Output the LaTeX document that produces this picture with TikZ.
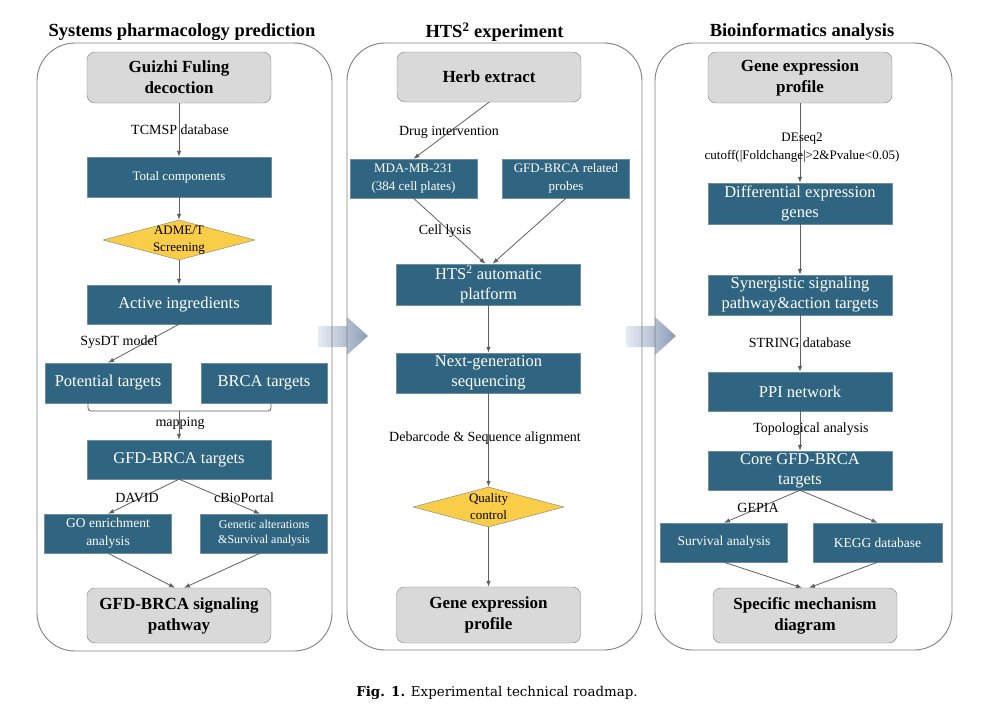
\documentclass[tikz,border=0pt]{standalone}
\usepackage{fontspec}
\setmainfont{Liberation Serif}
\newfontfamily\capfont{DejaVu Serif}
\usetikzlibrary{arrows.meta}
\usetikzlibrary{shapes.geometric}

\definecolor{tealbox}{HTML}{2F6580}
\definecolor{tealline}{HTML}{6F8FA0}
\definecolor{greybox}{HTML}{D9D9D9}
\definecolor{boxline}{HTML}{808080}
\definecolor{goldbox}{HTML}{F9CD48}
\definecolor{flowgrey}{HTML}{5F5F5F}
\definecolor{arrowl}{HTML}{E6ECF5}
\definecolor{arrowr}{HTML}{8C9DB6}

\begin{document}
\begin{tikzpicture}[x=1pt,y=-1pt,line cap=round,line join=round,
    >={Latex[length=6pt,width=4.5pt]},
    panel/.style={draw=boxline, line width=0.9pt, rounded corners=38pt},
    ttl/.style={font=\fontsize{18.5}{22}\selectfont\bfseries},
    start/.style={draw=boxline, fill=greybox, rounded corners=8pt, inner sep=0pt,
        minimum width=184pt, align=center, font=\fontsize{17}{21}\selectfont\bfseries},
    proc/.style={draw=tealline, fill=tealbox, text=white, inner sep=0pt,
        minimum width=184pt, minimum height=40pt, align=center,
        font=\fontsize{16.5}{20}\selectfont},
    half/.style={minimum width=127pt, minimum height=39pt},
    small/.style={font=\fontsize{13.5}{18}\selectfont},
    decision/.style={diamond, draw=boxline, fill=goldbox, inner sep=0pt,
        minimum width=152pt, minimum height=40pt},
    dtext/.style={align=center, inner sep=0pt, font=\fontsize{13}{17}\selectfont},
    lbl/.style={inner sep=1pt, font=\fontsize{14}{17}\selectfont},
    flow/.style={->, draw=flowgrey, line width=0.8pt}]
    \useasboundingbox (0,0) rectangle (1000,710);

    % block arrows between the panels
    \shade[left color=arrowl, right color=arrowr] (318,326) -- (347,326) -- (347,317)
        -- (368,336) -- (347,355) -- (347,347) -- (318,347) -- cycle;
    \shade[left color=arrowl, right color=arrowr] (626,326) -- (655,326) -- (655,317)
        -- (676,336) -- (655,355) -- (655,347) -- (626,347) -- cycle;

    % panels and titles
    \draw[panel] (37,43) rectangle (332,651);
    \draw[panel] (347,43) rectangle (642,650);
    \draw[panel] (655,43) rectangle (952,650);
    \node[ttl] (t1) at (182,32) {Systems pharmacology prediction};
    \node[ttl] (t2) at (494.5,32) {HTS\textsuperscript{2} experiment};
    \node[ttl] (t3) at (802,32) {Bioinformatics analysis};

    % systems pharmacology prediction
    \node[start, minimum height=51pt] (gfl) at (179,77.5) {Guizhi Fuling\\decoction};
    \node[proc, small, font=\fontsize{13}{17}\selectfont] (tot) at (179,177) {Total components};
    \node[decision] (adme) at (179,240) {};
    \node[dtext] (admet) at (adme) {ADME/T\\Screening};
    \node[proc, minimum height=39pt] (act) at (179,304.5) {Active ingredients};
    \node[proc, minimum width=126pt] (pot) at (108,383) {Potential targets};
    \node[proc, minimum width=126pt] (brca) at (264,383) {BRCA targets};
    \node[proc, minimum height=39pt] (gfdt) at (179,459.5) {GFD-BRCA targets};
    \node[proc, half, small] (goe) at (108,533.5) {GO enrichment\\analysis};
    \node[proc, half, font=\fontsize{12}{15}\selectfont] (gen) at (264,533.5) {Genetic alterations\\\&Survival analysis};
    \node[start, minimum height=55pt] (sig) at (179,615.5) {GFD-BRCA signaling\\pathway};
    \coordinate (mapj) at (179,411);

    \draw[flow] (gfl) -- (tot);
    \draw[flow] (tot) -- (adme);
    \draw[flow] (adme) -- (act);
    \draw[flow] (act.south) -- (pot.north);
    \draw[draw=flowgrey, line width=0.8pt, rounded corners=3pt]
        ([xshift=-20pt]pot.south) |- (mapj) -| ([xshift=7pt]brca.south);
    \draw[flow] (mapj) -- (gfdt);
    \draw[flow] (gfdt.south) -- (goe.north);
    \draw[flow] (gfdt.south) -- ([xshift=-4pt]gen.north);
    \draw[flow] (goe.south) -- ([xshift=-4pt]sig.north);
    \draw[flow] ([xshift=-4pt]gen.south) -- ([xshift=5pt]sig.north);

    \node[lbl] (l1) at (180,130) {TCMSP database};
    \node[lbl] (l2) at (119,342) {SysDT model};
    \node[lbl] (l3) at (180,423) {mapping};
    \node[lbl] (l4) at (137,498) {DAVID};
    \node[lbl] (l5) at (244,498) {cBioPortal};

    % HTS2 experiment
    \node[start, minimum height=50pt] (herb) at (489,77) {Herb extract};
    \node[proc, half, small, font=\fontsize{13}{18}\selectfont] (mda) at (413.5,178.5) {MDA-MB-231\\(384 cell plates)};
    \node[proc, half, small, font=\fontsize{13}{18}\selectfont] (probe) at (566,178.5) {GFD-BRCA related\\probes};
    \node[proc, minimum height=41pt] (hts) at (488.5,284.5) {HTS\textsuperscript{2} automatic\\platform};
    \node[proc] (ngs) at (488.5,373) {Next-generation\\sequencing};
    \node[decision, minimum width=151pt] (qc) at (488.5,507) {};
    \node[dtext] (qct) at (qc) {Quality\\control};
    \node[start, minimum height=56pt] (gep) at (488.5,615) {Gene expression\\profile};

    \draw[flow] (herb.south) -- (mda.north);
    \draw[flow] (mda.south) -- ([xshift=-3pt]hts.north);
    \draw[flow] (probe.south) -- ([xshift=4pt]hts.north);
    \draw[flow] (hts) -- (ngs);
    \draw[flow] (ngs) -- (qc);
    \draw[flow] (qc) -- (gep);

    \node[lbl] (l6) at (449,132) {Drug intervention};
    \node[lbl] (l7) at (445,231) {Cell lysis};
    \node[lbl] (l8) at (485,438) {Debarcode \& Sequence alignment};

    % bioinformatics analysis
    \node[start, minimum height=51pt] (gep2) at (800,77.5) {Gene expression\\profile};
    \node[proc, minimum height=41pt] (deg) at (800,203.5) {Differential expression\\genes};
    \node[proc] (syn) at (800,295) {Synergistic signaling\\pathway\&action targets};
    \node[proc, minimum height=39pt] (ppi) at (800,391.5) {PPI network};
    \node[proc, minimum height=39pt] (core) at (800,470.5) {Core GFD-BRCA\\targets};
    \node[proc, half, small] (surv) at (724,542.5) {Survival analysis};
    \node[proc, half, small, minimum width=129pt] (kegg) at (877.5,542.5) {KEGG database};
    \node[start, minimum height=55pt] (spec) at (805,615.5) {Specific mechanism\\diagram};

    \draw[flow] (gep2) -- (deg);
    \draw[flow] (deg) -- (syn);
    \draw[flow] (syn) -- (ppi);
    \draw[flow] (ppi) -- (core);
    \draw[flow] (core.south) -- (surv.north);
    \draw[flow] (core.south) -- (kegg.north);
    \draw[flow] (surv.south) -- ([xshift=-3pt]spec.north);
    \draw[flow] (kegg.south) -- ([xshift=4pt]spec.north);

    \node[lbl, align=center, font=\fontsize{13}{18}\selectfont] (l9) at (802,148)
        {DEseq2\\cutoff(|Foldchange|>2\&Pvalue<0.05)};
    \node[lbl] (l10) at (800,343) {STRING database};
    \node[lbl] (l11) at (811,429) {Topological analysis};
    \node[lbl] (l12) at (758,508) {GEPIA};

    % caption
    \node[font=\capfont\fontsize{13.4}{16}\selectfont] (cap) at (497,693)
        {\textbf{Fig. 1.} Experimental technical roadmap.};
\end{tikzpicture}
\end{document}
